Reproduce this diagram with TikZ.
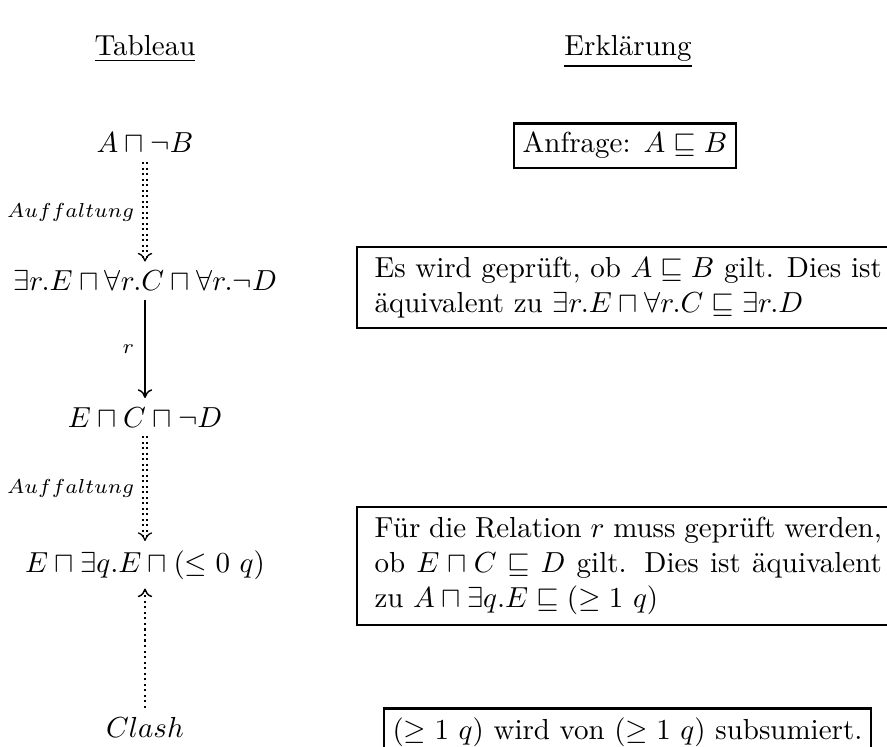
\documentclass[tikz,border=0pt]{standalone}
\usepackage{amsmath,amssymb}
\usepackage{fontspec}
\usetikzlibrary{arrows.meta}

\begin{document}
\begin{tikzpicture}[x=0.345pt, y=-0.345pt,
    >={To[length=3pt, width=5pt]},
    obj/.style={inner sep=3pt, anchor=base},
    lbl/.style={font=\scriptsize, left, inner sep=3.5pt},
    fold/.style={->, double, double distance=0.9pt, line width=0.45pt,
                 dash pattern=on 0.7pt off 1.2pt},
    clash/.style={->, line width=0.5pt, dash pattern=on 0.7pt off 1.2pt},
    expl/.style={draw, line width=0.8pt, inner sep=3pt, anchor=base},
    explpar/.style={expl, anchor=north west, text width=175pt, align=justify,
                    inner xsep=6pt, inner ysep=3.5pt}]
  \useasboundingbox (0,0) rectangle (887,747);
  % column heads
  \node[anchor=base] (tab) at (145,56) {\underline{Tableau}};
  \node[anchor=base] (erk) at (628,56) {\underline{Erklärung}};
  % the tableau
  \node[obj] (n1) at (145,153) {$A \sqcap \neg B$};
  \node[obj] (n2) at (145,291) {$\exists r.E \sqcap \forall r.C \sqcap \forall r.\neg D$};
  \node[obj] (n3) at (145,427) {$E \sqcap C \sqcap \neg D$};
  \node[obj] (n4) at (145,572) {$E \sqcap \exists q.E \sqcap (\leq 0\ q)$};
  \node[obj] (n5) at (145,737) {$Clash$};
  \draw[fold] (n1) -- (n2) node[lbl, midway] {$Auffaltung$};
  \draw[->, line width=0.5pt] (n2) -- (n3) node[lbl, midway] {$r$};
  \draw[fold] (n3) -- (n4) node[lbl, midway] {$Auffaltung$};
  \draw[clash] (n5) -- (n4);
  % the explanations
  \node[expl] (e1) at (625,153) {Anfrage: $A \sqsubseteq B$};
  \node[explpar] (e2) at (356,246)
    {Es wird geprüft, ob $A \sqsubseteq B$ gilt. Dies ist äquivalent zu
     $\exists r.E \sqcap \forall r.C \sqsubseteq \exists r.D$};
  \node[explpar] (e3) at (356,506)
    {Für die Relation $r$ muss geprüft werden, ob $E \sqcap C \sqsubseteq D$
     gilt. Dies ist äquivalent zu $A \sqcap \exists q.E \sqsubseteq (\geq 1\ q)$};
  \node[expl] (e4) at (627.5,739) {$(\geq 1\ q)$ wird von $(\geq 1\ q)$ subsumiert.};
\end{tikzpicture}
\end{document}
